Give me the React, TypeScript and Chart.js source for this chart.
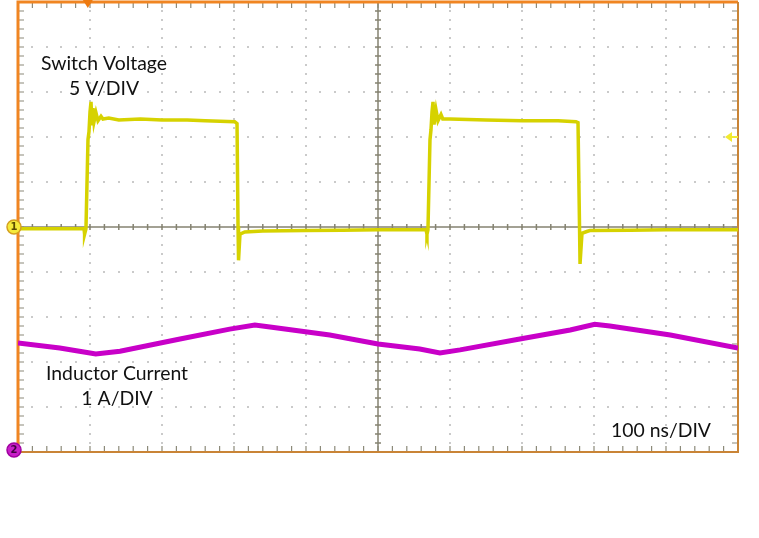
import { useEffect, useRef } from "react";
import { Chart, registerables } from "chart.js";

Chart.register(...registerables);

// Time axis: 100 ns/div, 10 divisions
const timeMin = 0;
const timeMax = 1000;
const timeDiv = 100;

// Channel 1: switch voltage (V), 5 V/div, zero at centre
const voltsPerDiv = 5;
const switchTimeNs = [
  0, 50, 91.7, 92.5, 94.4, 97.2, 98.6, 100, 101.4, 102.8, 104.2, 105.6, 108.3, 111.1, 115.3, 118, 126, 140, 170, 200,
  235, 260, 301, 304.2, 305.6, 306.3, 308.3, 315, 340, 400, 450, 500, 550, 566.7, 568, 569.4, 572.2, 573.6, 575,
  576.4, 577.8, 580.6, 583.3, 587.5, 590, 600, 650, 700, 750, 775, 777.8, 779.9, 780.6, 783.3, 790, 794.4, 850, 900, 950, 1000,
];
const switchVolts = [
  -0.2, -0.2, -0.2, -0.8, -0.2, 9.7, 10.6, 12.8, 13.9, 11.3, 13.2, 11.7, 12.7, 11.8, 12.3, 12.0, 12.1, 11.9, 12.0, 11.9,
  11.9, 11.8, 11.7, 11.5, 0.1, -3.7, -0.8, -0.55, -0.45, -0.4, -0.35, -0.3, -0.3, -0.3, -0.8, -0.3, 9.7, 10.8, 12.8,
  13.9, 11.4, 13.0, 11.8, 12.5, 12.0, 12.0, 11.9, 11.8, 11.8, 11.7, 11.6, 0.0, -4.1, -0.7, -0.5, -0.4, -0.35, -0.3, -0.3, -0.3,
];

// Channel 2: inductor current (A), 1 A/div, zero at bottom of screen
const ampsPerDiv = 1;
const currentTimeNs = [0, 58, 100, 108, 141.7, 225, 294, 329, 350, 433, 500, 558, 586, 614, 697, 767, 801, 822, 906, 1000];
const inductorAmps = [2.42, 2.31, 2.2, 2.18, 2.24, 2.51, 2.73, 2.82, 2.78, 2.6, 2.4, 2.29, 2.2, 2.27, 2.51, 2.71, 2.84, 2.8, 2.6, 2.31];

// Scope markers
const triggerTimeNs = 97;
const triggerLevelV = 10;

// Text labels
const voltageLabel = ["Switch Voltage", "5 V/DIV"];
const currentLabel = ["Inductor Current", "1 A/DIV"];
const timebaseLabel = "100 ns/DIV";

const FONT = "Lato, 'Open Sans', sans-serif";

const scopePlugin = {
  id: "scope",
  beforeDatasetsDraw(chart: any) {
    const { ctx, chartArea, scales } = chart;
    const { left, right, top, bottom } = chartArea;
    const x = scales.x;
    const yV = scales.yV;
    ctx.save();
    // dotted grid
    ctx.fillStyle = "#cacaca";
    for (let d = 1; d < 10; d++) {
      const v = -25 + d * voltsPerDiv;
      if (v === 0) continue;
      const py = yV.getPixelForValue(v);
      for (let t = timeMin; t <= timeMax; t += timeDiv / 5) {
        const px = x.getPixelForValue(t);
        ctx.fillRect(Math.round(px) - 1, Math.round(py) - 1, 2, 2);
      }
    }
    for (let d = 1; d < 10; d++) {
      const t = d * timeDiv;
      if (t === 500) continue;
      const px = x.getPixelForValue(t);
      for (let v = -25; v <= 25; v += voltsPerDiv / 5) {
        const py = yV.getPixelForValue(v);
        ctx.fillRect(Math.round(px) - 1, Math.round(py) - 1, 2, 2);
      }
    }
    // centre cross with ticks
    const cx = x.getPixelForValue(500);
    const cy = yV.getPixelForValue(0);
    ctx.strokeStyle = "#858372";
    ctx.lineWidth = 1.5;
    ctx.beginPath();
    ctx.moveTo(left, cy);
    ctx.lineTo(right, cy);
    ctx.moveTo(cx, top);
    ctx.lineTo(cx, bottom);
    for (let t = timeMin; t <= timeMax; t += timeDiv / 5) {
      const px = x.getPixelForValue(t);
      ctx.moveTo(px, cy - 3);
      ctx.lineTo(px, cy + 3);
    }
    for (let v = -25; v <= 25; v += voltsPerDiv / 5) {
      const py = yV.getPixelForValue(v);
      ctx.moveTo(cx - 3, py);
      ctx.lineTo(cx + 3, py);
    }
    ctx.stroke();
    // border ticks
    ctx.strokeStyle = "#8c8a7a";
    ctx.lineWidth = 1.2;
    ctx.beginPath();
    for (let t = timeMin; t <= timeMax; t += timeDiv / 5) {
      const px = x.getPixelForValue(t);
      ctx.moveTo(px, top);
      ctx.lineTo(px, top + 6);
      ctx.moveTo(px, bottom);
      ctx.lineTo(px, bottom - 6);
    }
    for (let v = -25; v <= 25; v += voltsPerDiv / 5) {
      const py = yV.getPixelForValue(v);
      ctx.moveTo(left, py);
      ctx.lineTo(left + 6, py);
      ctx.moveTo(right, py);
      ctx.lineTo(right - 6, py);
    }
    ctx.stroke();
    // borders
    ctx.lineWidth = 3;
    ctx.strokeStyle = "#f08522";
    ctx.beginPath();
    ctx.moveTo(left, bottom);
    ctx.lineTo(left, top);
    ctx.lineTo(right, top);
    ctx.stroke();
    ctx.lineWidth = 2;
    ctx.strokeStyle = "#c98436";
    ctx.beginPath();
    ctx.moveTo(left, bottom);
    ctx.lineTo(right, bottom);
    ctx.lineTo(right, top);
    ctx.stroke();
    ctx.restore();
  },
  afterDatasetsDraw(chart: any) {
    const { ctx, chartArea, scales } = chart;
    const { left, right, top } = chartArea;
    const x = scales.x;
    const yV = scales.yV;
    const yA = scales.yA;
    ctx.save();
    // trigger position marker
    const tx = x.getPixelForValue(triggerTimeNs);
    ctx.fillStyle = "#ee7a10";
    ctx.beginPath();
    ctx.moveTo(tx - 5, 0);
    ctx.lineTo(tx + 5, 0);
    ctx.lineTo(tx, top + 6);
    ctx.closePath();
    ctx.fill();
    // trigger level marker
    const ty = yV.getPixelForValue(triggerLevelV);
    ctx.fillStyle = "#f2ea30";
    ctx.beginPath();
    ctx.moveTo(right - 13, ty);
    ctx.lineTo(right - 6, ty - 5);
    ctx.lineTo(right - 6, ty + 5);
    ctx.closePath();
    ctx.fill();
    ctx.strokeStyle = "#f2ea30";
    ctx.lineWidth = 2;
    ctx.beginPath();
    ctx.moveTo(right - 7, ty);
    ctx.lineTo(right, ty);
    ctx.stroke();
    // channel markers
    const drawMarker = (px: number, py: number, fill: string, stroke: string, label: string, color: string) => {
      ctx.beginPath();
      ctx.arc(px, py, 7, 0, Math.PI * 2);
      ctx.fillStyle = fill;
      ctx.fill();
      ctx.lineWidth = 1.5;
      ctx.strokeStyle = stroke;
      ctx.stroke();
      ctx.fillStyle = color;
      ctx.font = "bold 10px 'DejaVu Sans', sans-serif";
      ctx.textAlign = "center";
      ctx.textBaseline = "middle";
      ctx.fillText(label, px, py + 0.5);
    };
    drawMarker(left - 4, yV.getPixelForValue(0), "#f6ea3a", "#d4a020", "1", "#5a4a00");
    drawMarker(left - 4, yA.getPixelForValue(0) - 2, "#c81ec8", "#a000a0", "2", "#400040");
    // text
    ctx.fillStyle = "#111";
    ctx.font = `19.4px ${FONT}`;
    ctx.textAlign = "center";
    ctx.textBaseline = "alphabetic";
    ctx.fillText(voltageLabel[0], 104, 70);
    ctx.fillText(voltageLabel[1], 104, 95);
    ctx.fillText(currentLabel[0], 117, 380);
    ctx.fillText(currentLabel[1], 117, 405);
    ctx.fillText(timebaseLabel, 661, 437);
    ctx.restore();
  },
};

const bgPlugin = {
  id: "bg",
  beforeDraw(chart: any) {
    const { ctx, width, height } = chart;
    ctx.save();
    ctx.fillStyle = "#ffffff";
    ctx.fillRect(0, 0, width, height);
    ctx.restore();
  },
};

export default function App() {
  const ref = useRef<HTMLCanvasElement>(null);
  useEffect(() => {
    document.body.style.margin = "0";
    const canvas = ref.current;
    if (!canvas) return;
    const chart = new Chart(canvas, {
      type: "line",
      data: {
        datasets: [
          {
            label: "Inductor Current",
            yAxisID: "yA",
            data: currentTimeNs.map((t, i) => ({ x: t, y: inductorAmps[i] })),
            borderColor: "#c800c8",
            borderWidth: 5,
            pointRadius: 0,
            tension: 0,
          },
          {
            label: "Switch Voltage",
            yAxisID: "yV",
            data: switchTimeNs.map((t, i) => ({ x: t, y: switchVolts[i] })),
            borderColor: "#d6d200",
            borderWidth: 3.5,
            pointRadius: 0,
            tension: 0,
          },
        ],
      },
      options: {
        animation: false,
        responsive: false,
        devicePixelRatio: 1,
        layout: { padding: { left: 18, right: 21, top: 2, bottom: 86 } },
        plugins: { legend: { display: false }, tooltip: { enabled: false } },
        scales: {
          x: { type: "linear", min: timeMin, max: timeMax, display: false },
          yV: { type: "linear", min: -5 * voltsPerDiv, max: 5 * voltsPerDiv, display: false },
          yA: { type: "linear", min: 0, max: 10 * ampsPerDiv, display: false },
        },
      },
      plugins: [bgPlugin, scopePlugin],
    });
    return () => chart.destroy();
  }, []);
  return <canvas ref={ref} width={759} height={538} style={{ display: "block", width: 759, height: 538 }} />;
}
